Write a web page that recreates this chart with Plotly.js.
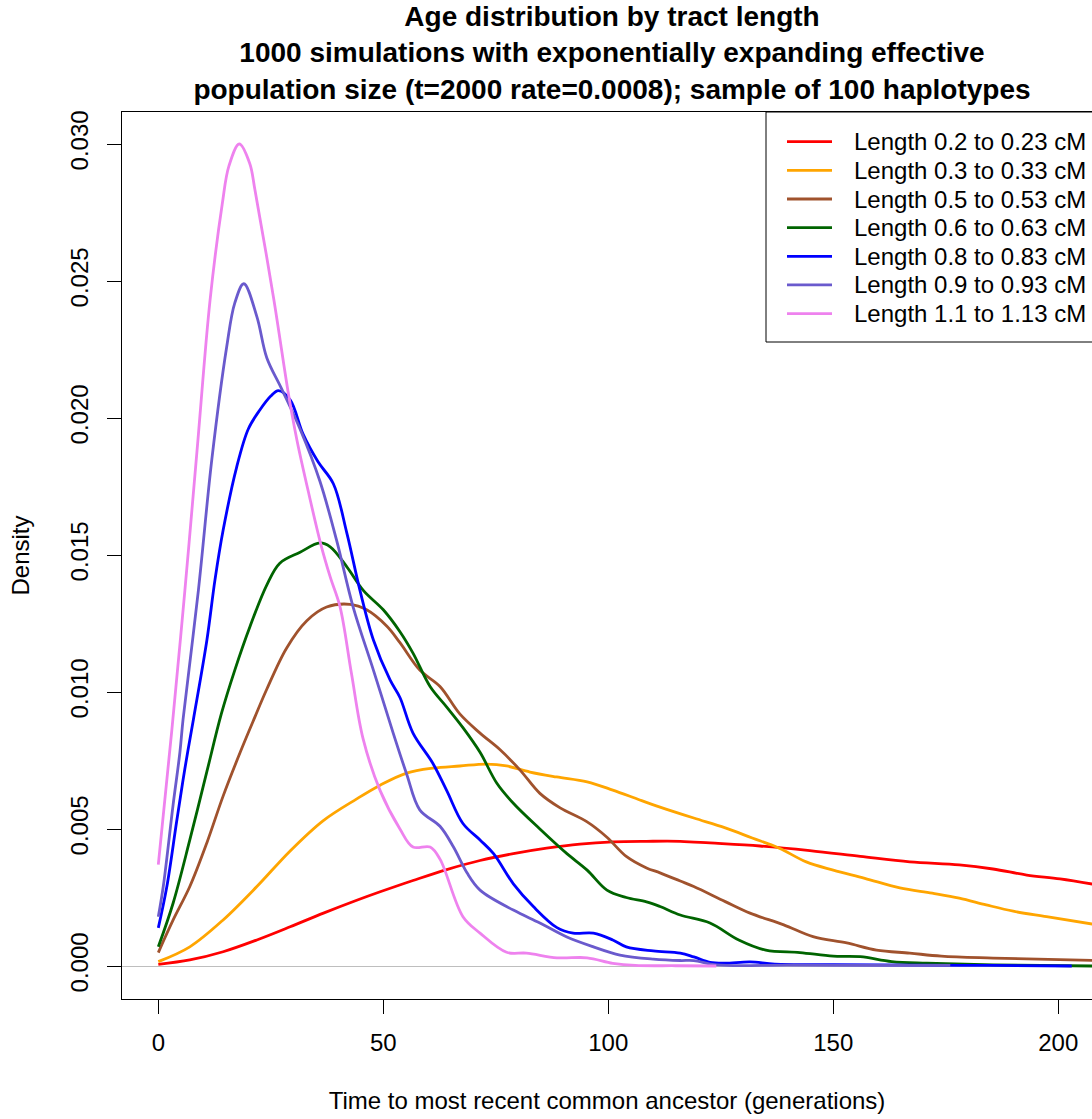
<!DOCTYPE html>
<html>
<head>
<meta charset="utf-8">
<script src="https://cdn.plot.ly/plotly-3.0.1.min.js"></script>
<style>html,body{margin:0;padding:0;background:#fff;}</style>
</head>
<body>
<div id="chart" style="width:1092px;height:1119px;"></div>
<script>
// Series names
const seriesNames = [
  "Length 0.2 to 0.23 cM",
  "Length 0.3 to 0.33 cM",
  "Length 0.5 to 0.53 cM",
  "Length 0.6 to 0.63 cM",
  "Length 0.8 to 0.83 cM",
  "Length 0.9 to 0.93 cM",
  "Length 1.1 to 1.13 cM"
];
const seriesColors = ["#FF0000", "#FFA500", "#A0522D", "#006400", "#0000FF", "#6A5ACD", "#EE82EE"];

// Density curves (time in generations, density)
const redT = [0, 7, 14.4, 21.9, 29.3, 36.7, 44.1, 49.3, 56.6, 64.1, 71.5, 78.9, 86.3, 93.7, 101, 108.5, 116, 122.6, 133.7, 144.8, 156, 167, 178, 185.5, 193, 200.4, 208];
const redY = [0.00006, 0.00022, 0.00052, 0.00095, 0.00143, 0.00193, 0.0024, 0.00271, 0.00312, 0.00352, 0.00385, 0.0041, 0.0043, 0.00445, 0.00453, 0.00455, 0.00455, 0.00449, 0.00438, 0.00421, 0.004, 0.0038, 0.00369, 0.00354, 0.00332, 0.00318, 0.00298];

const orangeT = [0, 7, 14.4, 21.9, 29.3, 36.6, 44.1, 49.3, 55.2, 61, 67, 73, 77.4, 82.6, 88.5, 95.3, 101, 107, 111.5, 119, 126, 132, 138, 144, 150, 157, 164.8, 172, 178, 184, 190, 197.4, 208];
const orangeY = [0.00016, 0.0007, 0.00168, 0.0029, 0.0042, 0.0053, 0.0061, 0.0066, 0.00704, 0.00722, 0.0073, 0.00737, 0.0073, 0.00708, 0.0069, 0.00672, 0.00642, 0.00606, 0.0058, 0.0054, 0.00504, 0.00467, 0.0043, 0.0038, 0.0035, 0.0032, 0.00285, 0.00266, 0.00248, 0.00223, 0.002, 0.0018, 0.00152];

const brownT = [0, 3.3, 7, 10.8, 14.4, 18.2, 21.5, 24.1, 28.5, 33, 37.4, 42.6, 46.3, 50.8, 53.7, 58.1, 62.6, 67, 71.5, 75.9, 80.4, 84.8, 89.3, 95.3, 99.7, 104, 108.5, 111.5, 116, 119, 126, 131.5, 139, 145.5, 153, 159.6, 167, 174, 185.5, 208];
const brownY = [0.00049, 0.00168, 0.0029, 0.0045, 0.0062, 0.0078, 0.0091, 0.0101, 0.0116, 0.0126, 0.0131, 0.0132, 0.0130, 0.0124, 0.0118, 0.0108, 0.0102, 0.0092, 0.0085, 0.0079, 0.00715, 0.0063, 0.00577, 0.00526, 0.0047, 0.004, 0.00358, 0.0034, 0.0031, 0.0029, 0.00235, 0.00193, 0.0015, 0.00107, 0.00084, 0.00058, 0.00047, 0.00036, 0.00029, 0.0002];

const greenT = [0, 3.3, 7, 10.8, 14, 17, 20.4, 24.1, 27, 31.5, 35.9, 38.2, 41.9, 45.6, 50, 53.7, 56.6, 60.4, 64.1, 67.7, 71.5, 75.2, 78.9, 84.8, 90.8, 95.3, 99.7, 104, 108.5, 111.5, 116, 122.6, 129, 135, 142.6, 150, 156, 163, 170.8, 185.5, 208];
const greenY = [0.0007, 0.0023, 0.0046, 0.0071, 0.0092, 0.0108, 0.0124, 0.0139, 0.0147, 0.0151, 0.01544, 0.0153, 0.01457, 0.0137, 0.013, 0.0122, 0.01142, 0.0102, 0.00945, 0.0087, 0.0078, 0.00668, 0.00594, 0.005, 0.0041, 0.0035, 0.00277, 0.0025, 0.00234, 0.00217, 0.00186, 0.00157, 0.00095, 0.00058, 0.00049, 0.00036, 0.00034, 0.00016, 0.0001, 0.00004, 0.0];

const blueT = [0, 1.9, 4.1, 5.9, 7.8, 10.8, 12.6, 14.4, 17.4, 20, 22.6, 25, 26.7, 29.3, 32.2, 35.5, 38.9, 41.9, 44.8, 47.8, 51.5, 53.7, 56.6, 61, 64.1, 67.7, 71.5, 74.5, 78.9, 83.4, 88.6, 92.2, 96.7, 101, 104, 110, 116, 119, 122.6, 126, 131.5, 137, 150, 170, 185, 203];
const blueY = [0.00139, 0.0029, 0.0053, 0.0072, 0.009, 0.0119, 0.0141, 0.0159, 0.0182, 0.0196, 0.0203, 0.0208, 0.0210, 0.02066, 0.0194, 0.0184, 0.0176, 0.0158, 0.01372, 0.0119, 0.01044, 0.0098, 0.0085, 0.0074, 0.0064, 0.0052, 0.0046, 0.0041, 0.003, 0.00216, 0.0014, 0.0012, 0.0012, 0.00095, 0.0007, 0.00055, 0.00047, 0.00033, 0.00013, 0.0001, 0.00015, 0.00007, 0.00005, 0.00003, 0.00002, 0.0];

const purpleT = [0, 1.1, 3.3, 4.8, 5.5, 8.9, 11.9, 15.2, 17, 19.0, 21.9, 24.1, 27.3, 31.5, 35.9, 39.6, 43.3, 47.8, 52.2, 55.2, 58.1, 62.6, 65.6, 68.6, 71.5, 78.9, 84.8, 90.8, 96.7, 102.6, 110, 116, 119, 124, 140, 160, 176];
const purpleY = [0.0018, 0.0029, 0.0059, 0.0078, 0.009, 0.0137, 0.0185, 0.0226, 0.0242, 0.0249, 0.0237, 0.0222, 0.0211, 0.0196, 0.0177, 0.01555, 0.0131, 0.0108, 0.0085, 0.007, 0.0057, 0.0051, 0.00434, 0.0034, 0.00277, 0.00204, 0.00157, 0.00106, 0.0007, 0.0004, 0.00025, 0.0002, 0.0002, 0.00004, 0.00003, 0.00002, 0.00002];

const pinkT = [0, 3, 5.9, 8.6, 11.5, 14.2, 15.7, 18, 20.3, 21.5, 25.6, 29, 30.8, 33.5, 36.1, 38.2, 40.4, 42.9, 45.5, 49.3, 53.7, 56.6, 60.4, 62.6, 67.7, 71.5, 77.4, 81.8, 88.6, 95.3, 101, 106, 115, 124];
const pinkY = [0.0037, 0.0086, 0.0137, 0.0188, 0.0243, 0.0278, 0.0292, 0.03, 0.0293, 0.0283, 0.0244, 0.0208, 0.0192, 0.0172, 0.0154, 0.0142, 0.0131, 0.0107, 0.0083, 0.0064, 0.005, 0.00434, 0.00434, 0.0039, 0.0018, 0.0012, 0.0005, 0.00047, 0.0003, 0.0003, 0.0001, 0.00002, 0.00001, 0.0];

// Axis ticks
const xTickVals = [0, 50, 100, 150, 200];
const yTickVals = [0, 0.005, 0.01, 0.015, 0.02, 0.025, 0.03];

const seriesT = [redT, orangeT, brownT, greenT, blueT, purpleT, pinkT];
const seriesY = [redY, orangeY, brownY, greenY, blueY, purpleY, pinkY];

const FONT = "Liberation Sans, Arial, Helvetica, sans-serif";
const W = 1092, H = 1119;
const M = {l: 122, r: 0, t: 112, b: 120};
const plotW = W - M.l - M.r, plotH = H - M.t - M.b;
const px2paperX = p => (p - M.l) / plotW;
const px2paperY = p => (H - M.b - p) / plotH;

const traces = seriesNames.map((name, i) => ({
  type: "scatter",
  mode: "lines",
  name: name,
  x: seriesT[i],
  y: seriesY[i],
  line: {color: seriesColors[i], width: 2.8, shape: "spline", smoothing: 1.0},
  showlegend: false,
  hoverinfo: "x+y+name"
}));

// Legend drawn as a box with sample lines and labels (R-style legend)
const legendShapes = [{
  type: "rect", xref: "paper", yref: "paper", layer: "above",
  x0: px2paperX(766), x1: px2paperX(1110), y0: px2paperY(342), y1: px2paperY(112),
  line: {color: "#000000", width: 1}, fillcolor: "#ffffff"
}];
const legendAnnotations = [];
const rowY0 = 141.7, rowStep = 28.65;
seriesNames.forEach((name, i) => {
  const yy = px2paperY(rowY0 + i * rowStep);
  legendShapes.push({
    type: "line", xref: "paper", yref: "paper", layer: "above",
    x0: px2paperX(787), x1: px2paperX(832), y0: yy, y1: yy,
    line: {color: seriesColors[i], width: 2.8}
  });
  legendAnnotations.push({
    xref: "paper", yref: "paper", x: px2paperX(852), y: yy,
    xanchor: "left", yanchor: "middle", showarrow: false,
    text: name, font: {family: FONT, size: 24, color: "#000000"}
  });
});

const layout = {
  width: W,
  height: H,
  autosize: false,
  paper_bgcolor: "#ffffff",
  plot_bgcolor: "#ffffff",
  margin: {l: M.l, r: M.r, t: M.t, b: M.b, pad: 0},
  font: {family: FONT, size: 24, color: "#000000"},
  title: {
    text: "Age distribution by tract length<br>1000 simulations with exponentially expanding effective<br>population size (t=2000 rate=0.0008); sample of 100 haplotypes",
    font: {family: FONT, size: 28, color: "#000000", weight: "bold"},
    xref: "container", x: 612 / W, xanchor: "center",
    yref: "container", y: 1 - 26 / H, yanchor: "middle"
  },
  xaxis: {
    range: [-8.07, 207.5],
    tickvals: xTickVals,
    ticktext: xTickVals.map(String),
    ticks: "outside", ticklen: 14, tickwidth: 1, tickcolor: "#000000",
    showline: true, linecolor: "#000000", linewidth: 1, mirror: true,
    showgrid: false, zeroline: false,
    tickfont: {family: FONT, size: 24, color: "#000000"},
    ticklabelstandoff: 8,
    title: {text: "Time to most recent common ancestor (generations)", font: {family: FONT, size: 24, color: "#000000"}, standoff: 37}
  },
  yaxis: {
    range: [-0.0012044, 0.031168],
    tickvals: yTickVals,
    tickformat: ".3f",
    tickangle: -90,
    ticks: "outside", ticklen: 14, tickwidth: 1, tickcolor: "#000000",
    showline: true, linecolor: "#000000", linewidth: 1, mirror: false,
    showgrid: false,
    zeroline: true, zerolinecolor: "#BEBEBE", zerolinewidth: 1,
    tickfont: {family: FONT, size: 24, color: "#000000"},
    ticklabelstandoff: 9,
    title: {text: "Density", font: {family: FONT, size: 24, color: "#000000"}, standoff: 30}
  },
  shapes: legendShapes,
  annotations: legendAnnotations,
  showlegend: false
};

Plotly.newPlot("chart", traces, layout, {displayModeBar: false, staticPlot: true});
</script>
</body>
</html>
